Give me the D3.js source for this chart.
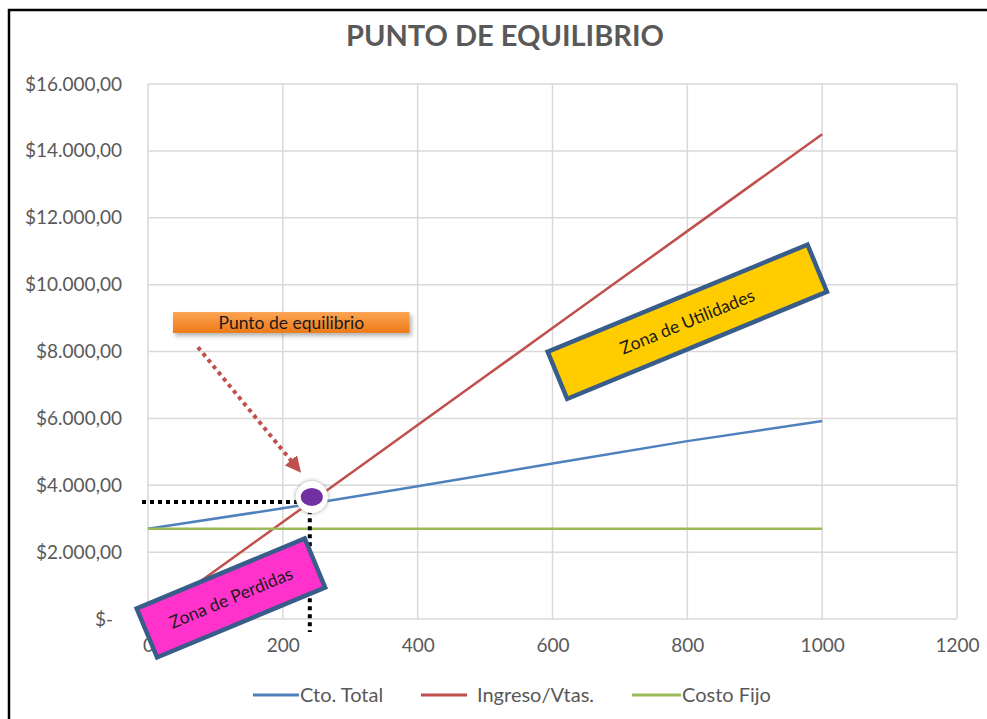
<!DOCTYPE html>
<html>
<head>
<meta charset="utf-8">
<script src="https://cdn.jsdelivr.net/npm/d3@7"></script>
<style>
  body { margin: 0; background: #fff; }
  svg { display: block; font-family: Lato, "Open Sans", sans-serif; }
</style>
</head>
<body>
<svg id="chart"></svg>
<script>
// data
var unidades   = [0, 200, 400, 600, 800, 1000];
var costoTotal = [2700, 3310, 3970, 4650, 5320, 5920];
var ingresos   = [0, 2900, 5800, 8700, 11600, 14500];
var costoFijo  = [2700, 2700, 2700, 2700, 2700, 2700];
var xTicks = [0, 200, 400, 600, 800, 1000, 1200];
var yTicks = [0, 2000, 4000, 6000, 8000, 10000, 12000, 14000, 16000];
var equilibrio = [240, 3500];   // units, value

var series = [
  {name: "Cto. Total",    values: costoTotal, color: "#4f81bd"},
  {name: "Ingreso/Vtas.", values: ingresos,   color: "#c0504d"},
  {name: "Costo Fijo",    values: costoFijo,  color: "#9bbb59"}
];

var W = 987, H = 719;
var margin = {top: 84, right: 30, bottom: 100, left: 148},
    width = W - margin.left - margin.right,
    height = H - margin.top - margin.bottom;

var svg = d3.select("#chart").attr("width", W).attr("height", H);

// frame (left + top edges visible)
svg.append("path")
    .attr("d", "M9,719 V10 H987")
    .attr("fill", "none")
    .attr("stroke", "#000")
    .attr("stroke-width", 2.5);

svg.append("text")
    .attr("x", 505).attr("y", 46)
    .attr("text-anchor", "middle")
    .attr("font-size", 29)
    .attr("font-weight", "bold")
    .attr("fill", "#595959")
    .text("PUNTO DE EQUILIBRIO");

var defs = svg.append("defs");
var grad = defs.append("linearGradient").attr("id", "orange")
    .attr("x1", 0).attr("y1", 0).attr("x2", 0).attr("y2", 1);
grad.append("stop").attr("offset", "0%").attr("stop-color", "#fba454");
grad.append("stop").attr("offset", "100%").attr("stop-color", "#ee7a16");

var shadow = defs.append("filter").attr("id", "shadow")
    .attr("x", "-20%").attr("y", "-50%").attr("width", "140%").attr("height", "220%");
shadow.append("feDropShadow").attr("dx", 2).attr("dy", 3).attr("stdDeviation", 2)
    .attr("flood-color", "#000").attr("flood-opacity", 0.3);

var glow = defs.append("filter").attr("id", "glow")
    .attr("x", "-50%").attr("y", "-50%").attr("width", "200%").attr("height", "200%");
glow.append("feDropShadow").attr("dx", 0).attr("dy", 0).attr("stdDeviation", 2)
    .attr("flood-color", "#888").attr("flood-opacity", 0.8);

var g = svg.append("g")
    .attr("transform", "translate(" + margin.left + "," + margin.top + ")");

var x = d3.scaleLinear().domain([0, 1200]).range([0, width]);
var y = d3.scaleLinear().domain([0, 16000]).range([height, 0]);

var loc = d3.formatLocale({decimal: ",", thousands: ".", grouping: [3], currency: ["$", ""]});
var money = loc.format("$,.2f");

// gridlines
g.append("g").selectAll("line").data(yTicks).enter().append("line")
    .attr("x1", 0).attr("x2", width)
    .attr("y1", function(d) { return y(d); }).attr("y2", function(d) { return y(d); })
    .attr("stroke", "#d9d9d9").attr("stroke-width", 1.5);
g.append("g").selectAll("line").data(xTicks).enter().append("line")
    .attr("y1", 0).attr("y2", height)
    .attr("x1", function(d) { return x(d); }).attr("x2", function(d) { return x(d); })
    .attr("stroke", "#d9d9d9").attr("stroke-width", 1.5);

// axes (labels only)
var yAxis = g.append("g")
    .call(d3.axisLeft(y).tickValues(yTicks).tickSize(0).tickPadding(26)
      .tickFormat(function(d) { return d === 0 ? "$-" : money(d); }));
var xAxis = g.append("g")
    .attr("transform", "translate(0," + height + ")")
    .call(d3.axisBottom(x).tickValues(xTicks).tickSize(0).tickPadding(20)
      .tickFormat(d3.format("d")));
[yAxis, xAxis].forEach(function(a) {
  a.select(".domain").remove();
  a.selectAll("text").attr("fill", "#595959").attr("font-size", 19)
      .attr("font-family", "Lato, sans-serif");
});
yAxis.selectAll("text").filter(function(d) { return d === 0; }).attr("dx", -9);

// series lines
var line = d3.line()
    .x(function(d, i) { return x(unidades[i]); })
    .y(function(d) { return y(d); })
    .curve(d3.curveMonotoneX);

g.selectAll(".serie").data(series).enter().append("path")
    .attr("class", "serie")
    .attr("d", function(s) { return line(s.values); })
    .attr("fill", "none")
    .attr("stroke", function(s) { return s.color; })
    .attr("stroke-width", 2.5);

// break-even guides
var ex = x(equilibrio[0]), ey = y(equilibrio[1]);
g.append("path")
    .attr("d", "M" + (x(0) - 6) + "," + ey + " H" + ex + " V" + (height + 13))
    .attr("fill", "none")
    .attr("stroke", "#000")
    .attr("stroke-width", 4)
    .attr("stroke-dasharray", "4,4");

g.append("circle")
    .attr("cx", ex + 2).attr("cy", ey - 5).attr("r", 16)
    .attr("fill", "#fff").attr("filter", "url(#glow)");
g.append("ellipse")
    .attr("cx", ex + 2).attr("cy", ey - 5).attr("rx", 11).attr("ry", 9)
    .attr("fill", "#7030a0");

// dotted arrow
defs.append("marker").attr("id", "head")
    .attr("viewBox", "0 0 10 10").attr("refX", 8).attr("refY", 5)
    .attr("markerWidth", 4).attr("markerHeight", 4)
    .attr("markerUnits", "strokeWidth")
    .attr("orient", "auto")
  .append("path").attr("d", "M0,0 L10,5 L0,10 Z").attr("fill", "#c0504d");

g.append("line")
    .attr("x1", x(74)).attr("y1", y(8130))
    .attr("x2", x(224)).attr("y2", y(4450))
    .attr("stroke", "#c0504d")
    .attr("stroke-width", 4)
    .attr("stroke-dasharray", "4,4")
    .attr("marker-end", "url(#head)");

// "Punto de equilibrio" label
var px0 = x(37), px1 = x(388), py0 = y(9180), py1 = y(8555);
g.append("rect")
    .attr("x", px0).attr("y", py0)
    .attr("width", px1 - px0).attr("height", py1 - py0)
    .attr("fill", "url(#orange)")
    .attr("filter", "url(#shadow)");
g.append("text")
    .attr("x", (px0 + px1) / 2).attr("y", (py0 + py1) / 2)
    .attr("dy", "0.35em")
    .attr("text-anchor", "middle")
    .attr("font-size", 17.5)
    .attr("fill", "#1a1a1a")
    .text("Punto de equilibrio");

// rotated zone boxes
var zonas = [
  {text: "Zona de Perdidas",   cx: 123, cy: 630,  w: 182, h: 53, angle: -22.6, fill: "#ff33cc"},
  {text: "Zona de Utilidades", cx: 800, cy: 8890, w: 281, h: 51, angle: -22.4, fill: "#ffcc00"}
];
var zg = g.selectAll(".zona").data(zonas).enter().append("g")
    .attr("class", "zona")
    .attr("transform", function(d) {
      return "translate(" + x(d.cx) + "," + y(d.cy) + ") rotate(" + d.angle + ")";
    });
zg.append("rect")
    .attr("x", function(d) { return -d.w / 2; })
    .attr("y", function(d) { return -d.h / 2; })
    .attr("width", function(d) { return d.w; })
    .attr("height", function(d) { return d.h; })
    .attr("fill", function(d) { return d.fill; })
    .attr("stroke", "#385d8a")
    .attr("stroke-width", 4.5);
zg.append("text")
    .attr("text-anchor", "middle")
    .attr("dy", "0.35em")
    .attr("font-size", 17.5)
    .attr("fill", "#1a1a1a")
    .text(function(d) { return d.text; });

// legend
var legendX = [253, 421, 632];
var lg = svg.append("g").selectAll("g").data(series).enter().append("g")
    .attr("transform", function(d, i) { return "translate(" + legendX[i] + ",695)"; });
lg.append("line")
    .attr("x1", 0).attr("x2", function(d, i) { return i === 2 ? 49 : 46; })
    .attr("stroke", function(d) { return d.color; })
    .attr("stroke-width", 3);
lg.append("text")
    .attr("x", function(d, i) { return i === 1 ? 56 : (i === 2 ? 50 : 47); })
    .attr("dy", "0.35em")
    .attr("font-size", 20)
    .attr("fill", "#595959")
    .text(function(d) { return d.name; });
</script>
</body>
</html>
